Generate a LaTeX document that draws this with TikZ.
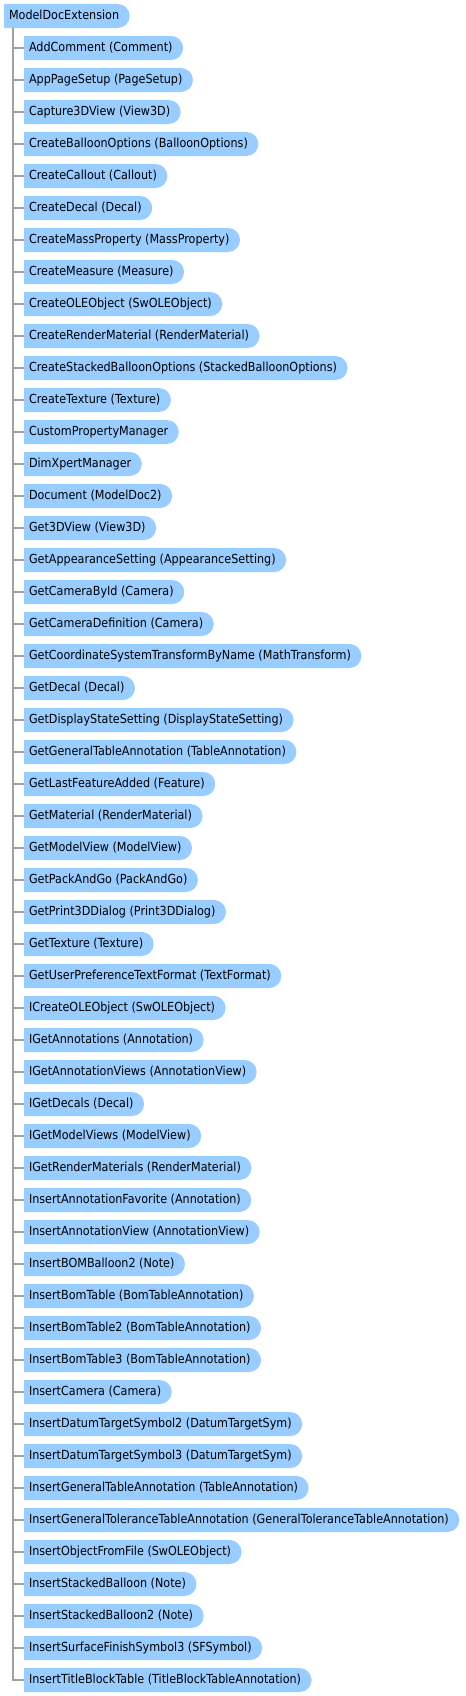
\documentclass[tikz,border=0pt]{standalone}
\usepackage{fontspec}
\setmainfont{DejaVu Sans}[FakeStretch=0.895]
\usetikzlibrary{shapes.misc}
\definecolor{nodeblue}{RGB}{153,204,255}
\definecolor{treegray}{RGB}{160,160,160}
\tikzset{
  member/.style={rounded rectangle, rounded rectangle left arc=none,
    fill=nodeblue, draw=none, minimum height=24bp, inner xsep=5bp, inner ysep=0bp,
    outer sep=0pt, anchor=west, font=\fontsize{12.5bp}{14bp}\selectfont,
    text height=9bp, text depth=2.8bp, execute at end node={\hspace{4bp}}},
  tree/.style={draw=treegray, line width=1.6bp}
}
\begin{document}
\begin{tikzpicture}[x=1bp,y=-1bp]
\useasboundingbox (0,0) rectangle (466,1696);
\node[member] (root) at (4,16) {ModelDocExtension};
\foreach \t [count=\i] in {
AddComment (Comment),
AppPageSetup (PageSetup),
Capture3DView (View3D),
CreateBalloonOptions (BalloonOptions),
CreateCallout (Callout),
CreateDecal (Decal),
CreateMassProperty (MassProperty),
CreateMeasure (Measure),
CreateOLEObject (SwOLEObject),
CreateRenderMaterial (RenderMaterial),
CreateStackedBalloonOptions (StackedBalloonOptions),
CreateTexture (Texture),
CustomPropertyManager,
DimXpertManager,
Document (ModelDoc2),
Get3DView (View3D),
GetAppearanceSetting (AppearanceSetting),
GetCameraById (Camera),
GetCameraDefinition (Camera),
GetCoordinateSystemTransformByName (MathTransform),
GetDecal (Decal),
GetDisplayStateSetting (DisplayStateSetting),
GetGeneralTableAnnotation (TableAnnotation),
GetLastFeatureAdded (Feature),
GetMaterial (RenderMaterial),
GetModelView (ModelView),
GetPackAndGo (PackAndGo),
GetPrint3DDialog (Print3DDialog),
GetTexture (Texture),
GetUserPreferenceTextFormat (TextFormat),
ICreateOLEObject (SwOLEObject),
IGetAnnotations (Annotation),
IGetAnnotationViews (AnnotationView),
IGetDecals (Decal),
IGetModelViews (ModelView),
IGetRenderMaterials (RenderMaterial),
InsertAnnotationFavorite (Annotation),
InsertAnnotationView (AnnotationView),
InsertBOMBalloon2 (Note),
InsertBomTable (BomTableAnnotation),
InsertBomTable2 (BomTableAnnotation),
InsertBomTable3 (BomTableAnnotation),
InsertCamera (Camera),
InsertDatumTargetSymbol2 (DatumTargetSym),
InsertDatumTargetSymbol3 (DatumTargetSym),
InsertGeneralTableAnnotation (TableAnnotation),
InsertGeneralToleranceTableAnnotation (GeneralToleranceTableAnnotation),
InsertObjectFromFile (SwOLEObject),
InsertStackedBalloon (Note),
InsertStackedBalloon2 (Note),
InsertSurfaceFinishSymbol3 (SFSymbol),
InsertTitleBlockTable (TitleBlockTableAnnotation)}
{
  \node[member] (c\i) at (24,{48+32*(\i-1)}) {\t};
  \draw[tree] ([xshift=9bp]root.south west) |- (c\i.west);
}
\end{tikzpicture}
\end{document}
